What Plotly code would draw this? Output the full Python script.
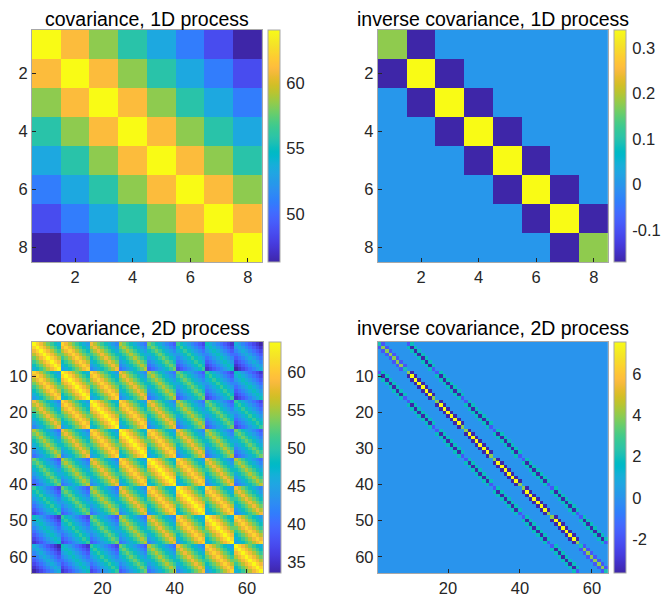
import plotly.graph_objects as go

# ---------------- data ----------------
# 1D process: first row of the (Toeplitz) covariance matrix, lag 0..7
cov_1d_row = [64.0, 61.1, 58.4, 55.8, 53.3, 50.9, 48.6, 46.4]

# 1D inverse covariance: diagonal and first off-diagonal
inv_1d_diag = [0.178, 0.340, 0.340, 0.340, 0.340, 0.340, 0.340, 0.178]
inv_1d_offdiag = [-0.170, -0.170, -0.170, -0.170, -0.170, -0.170, -0.170]

# 2D process (8x8 grid): covariance by (block lag, within-block lag)
cov_2d_lag = [
    [64.00, 61.10, 58.40, 55.80, 53.30, 50.90, 48.60, 46.40],
    [61.10, 58.33, 55.75, 53.27, 50.88, 48.59, 46.40, 44.30],
    [58.40, 55.75, 53.29, 50.92, 48.64, 46.45, 44.35, 42.34],
    [55.80, 53.27, 50.92, 48.65, 46.47, 44.38, 42.37, 40.46],
    [53.30, 50.88, 48.64, 46.47, 44.39, 42.39, 40.48, 38.64],
    [50.90, 48.59, 46.45, 44.38, 42.39, 40.48, 38.65, 36.90],
    [48.60, 46.40, 44.35, 42.37, 40.47, 38.65, 36.91, 35.24],
    [46.40, 44.30, 42.34, 40.46, 38.64, 36.90, 35.24, 33.64],
]

# 2D inverse covariance, band values
inv_2d_diag_edge_block = [2.05, 3.95, 3.95, 3.95, 3.95, 3.95, 3.95, 2.05]
inv_2d_diag_inner_block = [3.95, 7.55, 7.55, 7.55, 7.55, 7.55, 7.55, 3.95]
inv_2d_sub_edge_block = [-1.94, -1.94, -1.94, -1.94, -1.94, -1.94, -1.94]
inv_2d_sub_inner_block = [-3.65, -3.65, -3.65, -3.65, -3.65, -3.65, -3.65]
inv_2d_nbr_block_diag = [-1.94, -3.65, -3.65, -3.65, -3.65, -3.65, -3.65, -1.94]
inv_2d_nbr_block_sub = [1.85, 1.85, 1.85, 1.85, 1.85, 1.85, 1.85]

titles = ["covariance, 1D process", "inverse covariance, 1D process",
          "covariance, 2D process", "inverse covariance, 2D process"]

ticks_1d = [2, 4, 6, 8]
yticks_2d = [10, 20, 30, 40, 50, 60]
xticks_2d = [20, 40, 60]
cb_ticks = [[50, 55, 60], [-0.1, 0, 0.1, 0.2, 0.3],
            [35, 40, 45, 50, 55, 60], [-2, 0, 2, 4, 6]]
cb_ticktext = [["50", "55", "60"], ["-0.1", "0", "0.1", "0.2", "0.3"],
               ["35", "40", "45", "50", "55", "60"], ["-2", "0", "2", "4", "6"]]

# ---------------- build matrices from the tables ----------------
N1 = len(cov_1d_row)
cov1 = [[cov_1d_row[abs(i - j)] for j in range(N1)] for i in range(N1)]
inv1 = [[0.0] * N1 for _ in range(N1)]
for i in range(N1):
    inv1[i][i] = inv_1d_diag[i]
for i in range(N1 - 1):
    inv1[i][i + 1] = inv_1d_offdiag[i]
    inv1[i + 1][i] = inv_1d_offdiag[i]

B = 8
N2 = B * B
cov2 = [[cov_2d_lag[abs(r // B - c // B)][abs(r % B - c % B)] for c in range(N2)]
        for r in range(N2)]
inv2 = [[0.0] * N2 for _ in range(N2)]
for r in range(N2):
    for c in range(N2):
        bi, ii, bj, jj = r // B, r % B, c // B, c % B
        edge = bi in (0, B - 1)
        if bi == bj:
            if ii == jj:
                inv2[r][c] = (inv_2d_diag_edge_block if edge else inv_2d_diag_inner_block)[ii]
            elif abs(ii - jj) == 1:
                inv2[r][c] = (inv_2d_sub_edge_block if edge else inv_2d_sub_inner_block)[min(ii, jj)]
        elif abs(bi - bj) == 1:
            if ii == jj:
                inv2[r][c] = inv_2d_nbr_block_diag[ii]
            elif abs(ii - jj) == 1:
                inv2[r][c] = inv_2d_nbr_block_sub[min(ii, jj)]

# ---------------- parula colormap ----------------
parula = [
    [0.2422, 0.1504, 0.6603], [0.2504, 0.1650, 0.7076], [0.2578, 0.1818, 0.7511],
    [0.2647, 0.1978, 0.7952], [0.2706, 0.2147, 0.8364], [0.2751, 0.2342, 0.8710],
    [0.2783, 0.2559, 0.8991], [0.2803, 0.2782, 0.9221], [0.2813, 0.3006, 0.9414],
    [0.2810, 0.3228, 0.9579], [0.2795, 0.3447, 0.9717], [0.2760, 0.3667, 0.9829],
    [0.2699, 0.3892, 0.9906], [0.2602, 0.4123, 0.9952], [0.2440, 0.4358, 0.9988],
    [0.2206, 0.4603, 0.9973], [0.1963, 0.4847, 0.9892], [0.1834, 0.5074, 0.9798],
    [0.1786, 0.5289, 0.9682], [0.1764, 0.5499, 0.9520], [0.1687, 0.5703, 0.9359],
    [0.1540, 0.5902, 0.9218], [0.1460, 0.6091, 0.9079], [0.1380, 0.6276, 0.8973],
    [0.1248, 0.6459, 0.8883], [0.1113, 0.6635, 0.8763], [0.0952, 0.6798, 0.8598],
    [0.0689, 0.6948, 0.8394], [0.0297, 0.7082, 0.8163], [0.0036, 0.7203, 0.7917],
    [0.0067, 0.7312, 0.7660], [0.0433, 0.7411, 0.7394], [0.0964, 0.7500, 0.7120],
    [0.1408, 0.7584, 0.6842], [0.1717, 0.7670, 0.6554], [0.1938, 0.7758, 0.6251],
    [0.2161, 0.7843, 0.5923], [0.2470, 0.7918, 0.5567], [0.2906, 0.7973, 0.5188],
    [0.3406, 0.8008, 0.4789], [0.3909, 0.8029, 0.4354], [0.4456, 0.8024, 0.3909],
    [0.5044, 0.7993, 0.3480], [0.5616, 0.7942, 0.3045], [0.6174, 0.7876, 0.2612],
    [0.6720, 0.7793, 0.2227], [0.7242, 0.7698, 0.1910], [0.7738, 0.7598, 0.1646],
    [0.8203, 0.7498, 0.1535], [0.8634, 0.7406, 0.1596], [0.9035, 0.7330, 0.1774],
    [0.9393, 0.7288, 0.2100], [0.9728, 0.7298, 0.2394], [0.9956, 0.7434, 0.2371],
    [0.9970, 0.7659, 0.2199], [0.9952, 0.7893, 0.2028], [0.9892, 0.8136, 0.1885],
    [0.9786, 0.8386, 0.1766], [0.9676, 0.8639, 0.1643], [0.9610, 0.8890, 0.1537],
    [0.9597, 0.9135, 0.1423], [0.9628, 0.9373, 0.1265], [0.9691, 0.9606, 0.1064],
    [0.9769, 0.9839, 0.0805],
]
colorscale = [[k / (len(parula) - 1),
               "rgb(%d,%d,%d)" % tuple(round(255 * v) for v in c)]
              for k, c in enumerate(parula)]

# ---------------- layout geometry (pixels) ----------------
W, H = 662, 603
FONT = "Liberation Sans, Arial, sans-serif"
TXT = "#262626"

# (left, right, top, bottom) of each plot area, colorbar left
boxes = [
    (32, 263, 30, 262, 269),
    (379, 610, 30, 262, 616),
    (32, 264, 342, 573, 269.5),
    (379, 610, 342, 573, 616),
]
title_y = [18.5, 18.5, 327.5, 327.5]

mats = [cov1, inv1, cov2, inv2]
sizes = [N1, N1, N2, N2]

fig = go.Figure()
for k in range(4):
    l, r, t, b, cbx = boxes[k]
    n = sizes[k]
    idx = list(range(1, n + 1))
    xa = "x" if k == 0 else "x%d" % (k + 1)
    ya = "y" if k == 0 else "y%d" % (k + 1)
    fig.add_trace(go.Heatmap(
        z=mats[k], x=idx, y=idx, xaxis=xa, yaxis=ya,
        colorscale=colorscale, hoverinfo="skip",
        colorbar=dict(
            x=cbx / W, xanchor="left", y=1 - t / H, yanchor="top",
            len=(b - t) / H, lenmode="fraction",
            thickness=12, thicknessmode="pixels", xpad=0, ypad=0,
            outlinewidth=1, outlinecolor="#a8a8a8",
            ticks="outside", ticklen=3, tickcolor="rgba(0,0,0,0)",
            tickvals=cb_ticks[k], ticktext=cb_ticktext[k],
            tickfont=dict(family=FONT, size=16.5, color=TXT),
        ),
    ))
    if n == N1:
        xt, yt = ticks_1d, ticks_1d
    else:
        xt, yt = xticks_2d, yticks_2d
    axcommon = dict(showline=True, linecolor="#a8a8a8", linewidth=1, mirror=True,
                    ticks="inside", ticklen=4, tickcolor=TXT, showgrid=False,
                    zeroline=False, tickfont=dict(family=FONT, size=16.5, color=TXT))
    fig.layout[("xaxis" if k == 0 else "xaxis%d" % (k + 1))] = dict(
        domain=[l / W, r / W], range=[0.5, n + 0.5], tickvals=xt,
        anchor=ya, **axcommon)
    fig.layout[("yaxis" if k == 0 else "yaxis%d" % (k + 1))] = dict(
        domain=[1 - b / H, 1 - t / H], range=[n + 0.5, 0.5], tickvals=yt,
        anchor=xa, **axcommon)
    fig.add_annotation(
        text=titles[k], x=(l + r) / 2 / W, y=1 - title_y[k] / H,
        xref="paper", yref="paper", xanchor="center", yanchor="middle",
        showarrow=False, font=dict(family=FONT, size=19.5, color="#000000"))

fig.update_layout(
    width=W, height=H, margin=dict(l=0, r=0, t=0, b=0),
    paper_bgcolor="white", plot_bgcolor="white", showlegend=False,
)

fig.write_html("out.html")
